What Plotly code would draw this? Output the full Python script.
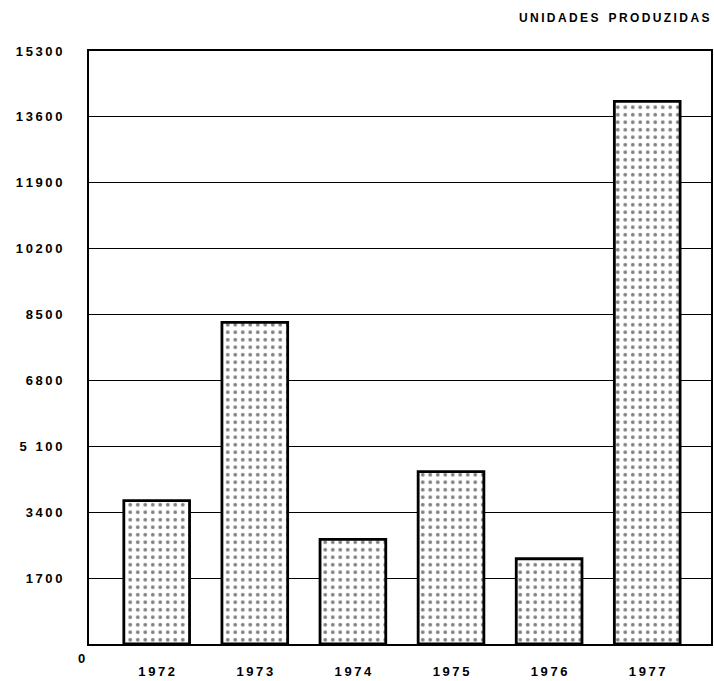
import plotly.graph_objects as go

years = ['1972', '1973', '1974', '1975', '1976', '1977']
units = [3700, 8300, 2700, 4450, 2200, 14000]
y_ticks = [1700, 3400, 5100, 6800, 8500, 10200, 11900, 13600, 15300]
y_tick_labels = ['1700', '3400', '5 100', '6800', '8500', '10200', '11900', '13600', '15300']

font = dict(family='Liberation Sans, Arial, sans-serif', size=13, color='black', weight='bold')

fig = go.Figure(go.Bar(
    x=list(range(len(years))),
    y=units,
    width=0.67,
    marker=dict(
        color='white',
        line=dict(color='black', width=2.8),
        pattern=dict(shape='.', fgcolor='black', bgcolor='white', size=7.5, solidity=0.2),
    ),
))

fig.update_xaxes(
    range=[-0.69, 5.65],
    tickvals=list(range(len(years))),
    ticktext=['\u2009'.join(y) for y in years],
    ticks='', showgrid=False, zeroline=False,
    showline=True, linecolor='black', linewidth=2, mirror=True,
    ticklabelstandoff=14, automargin=False,
    tickfont=font,
)
fig.update_yaxes(
    range=[0, 15300],
    tickvals=y_ticks,
    ticktext=['\u2009'.join(t) for t in y_tick_labels],
    ticks='', showgrid=True, gridcolor='black', gridwidth=1, zeroline=False,
    showline=True, linecolor='black', linewidth=2, mirror=True,
    ticklabelstandoff=22, automargin=False,
    tickfont=font,
)

fig.add_annotation(text='0', x=-0.69, y=0, xref='x', yref='y',
                   xanchor='right', yanchor='top', xshift=-2, yshift=-5,
                   showarrow=False, font=font)
fig.add_annotation(text='\u2009'.join('UNIDADES') + '   ' + '\u2009'.join('PRODUZIDAS'),
                   x=1, y=1, xref='paper', yref='paper', xanchor='right', yanchor='bottom',
                   yshift=24, showarrow=False,
                   font=dict(family='Liberation Sans, Arial, sans-serif', size=12,
                             color='black', weight='bold'))

fig.update_layout(
    width=714, height=681,
    margin=dict(l=89, r=3, t=51, b=37),
    plot_bgcolor='white', paper_bgcolor='white',
    showlegend=False,
)

# drop the browser's default body margin so the figure sits at the page corner
fig.write_html('out.html', config={'displayModeBar': False},
               post_script="document.body.style.margin='0';document.body.style.overflow='hidden';")
